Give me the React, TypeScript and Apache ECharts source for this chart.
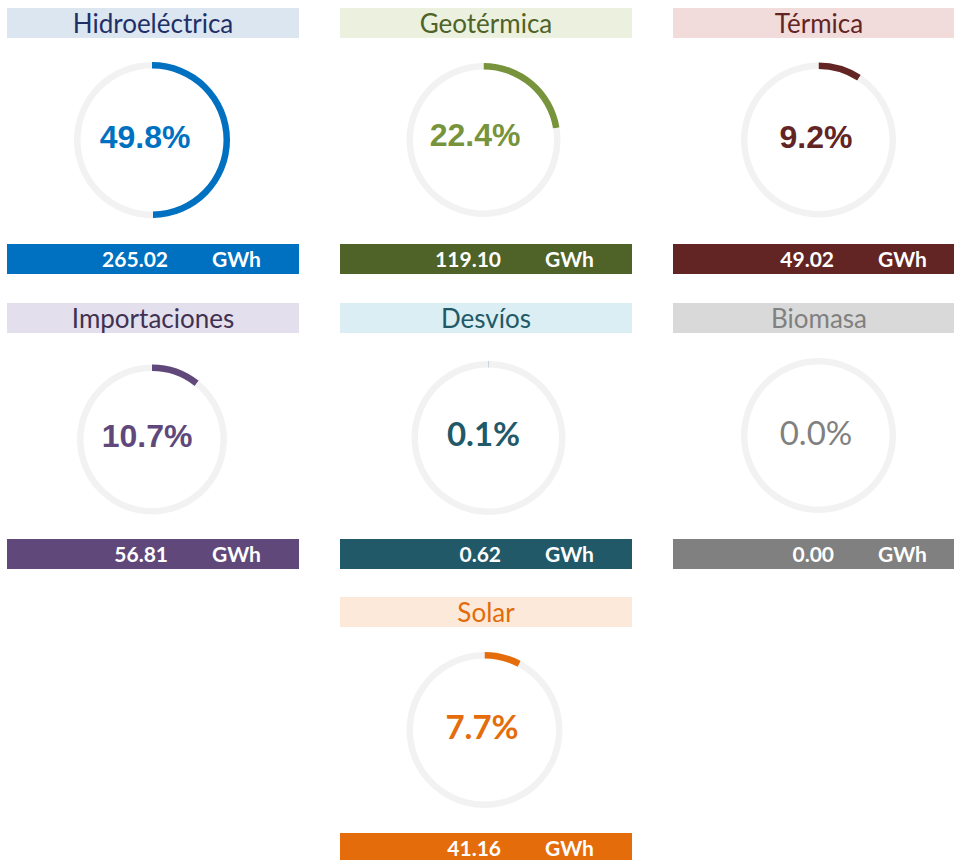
import React, { useEffect, useRef } from "react";
import * as echarts from "echarts";

// ---- data ----
const sources = ["Hidroeléctrica", "Geotérmica", "Térmica", "Importaciones", "Desvíos", "Biomasa", "Solar"];
const shares = [49.8, 22.4, 9.2, 10.7, 0.1, 0.0, 7.7]; // %
const energyGWh = [265.02, 119.1, 49.02, 56.81, 0.62, 0.0, 41.16];
const unit = "GWh";

// ---- styling ----
const ringColors = ["#0070C0", "#77933C", "#632523", "#60497A", "#215968", "#808080", "#E46C0A"];
const barColors = ["#0070C0", "#4F6228", "#632523", "#60497A", "#215968", "#808080", "#E46C0A"];
const titleBg = ["#DCE6F1", "#EBF1DE", "#F2DCDB", "#E4DFEC", "#DAEEF3", "#D9D9D9", "#FDE9D9"];
const titleFg = ["#1F3068", "#4F6228", "#632523", "#3F3151", "#215967", "#808080", "#E26B0A"];
const pctFont = ["Liberation Sans", "Liberation Sans", "Liberation Sans", "Liberation Sans", "Lato", "Lato", "Lato"];
const pctWeight = ["bold", "bold", "bold", "bold", "bold", "normal", "bold"];
const pctSize = [32, 32, 32, 32, 33, 33, 33];

// panel layout (x of panel, y of title bar, ring centre, ring radius, percent-label centre)
const panelX = [7, 340, 673, 7, 340, 673, 340];
const panelY = [8, 8, 8, 303, 303, 303, 597];
const ringC = [[152, 140], [483.5, 140], [818.5, 140], [152, 439.5], [488.5, 438], [818.5, 435.5], [484.5, 730]];
const ringR = [78, 77, 77.5, 75, 77, 77.5, 78];
const pctC = [[145, 137], [475, 135], [816, 137], [147, 436], [483.5, 433], [816, 432], [482, 726]];

const PANEL_W = 292;
const BAR_H = 30;
const VALUE_OFFSET = 236;

export default function App() {
  const ref = useRef<HTMLDivElement>(null);

  useEffect(() => {
    if (!ref.current) return;
    const chart = echarts.init(ref.current, null, { renderer: "svg" });

    const series: any[] = sources.map((name, i) => ({
      type: "pie",
      name,
      center: ringC[i],
      radius: [ringR[i] - 6.5, ringR[i]],
      startAngle: 90,
      clockwise: true,
      silent: true,
      avoidLabelOverlap: false,
      label: { show: false },
      labelLine: { show: false },
      emphasis: { disabled: true },
      itemStyle: { borderWidth: 0 },
      data: [
        { value: shares[i], itemStyle: { color: ringColors[i] } },
        { value: 100 - shares[i], itemStyle: { color: "#F2F2F2" } },
      ],
    }));

    const graphics: any[] = [];
    sources.forEach((name, i) => {
      const x = panelX[i];
      const y = panelY[i];
      graphics.push({
        type: "rect",
        shape: { x, y, width: PANEL_W, height: BAR_H },
        style: { fill: titleBg[i] },
        silent: true,
      });
      graphics.push({
        type: "text",
        x: x + PANEL_W / 2,
        y: y + BAR_H / 2 - 0.5,
        style: {
          text: name,
          fill: titleFg[i],
          font: "normal 26px Lato, 'Open Sans', sans-serif",
          align: "center",
          verticalAlign: "middle",
        },
        silent: true,
      });
      const vy = y + VALUE_OFFSET;
      graphics.push({
        type: "rect",
        shape: { x, y: vy, width: PANEL_W, height: BAR_H },
        style: { fill: barColors[i] },
        silent: true,
      });
      graphics.push({
        type: "text",
        x: x + 161,
        y: vy + BAR_H / 2 - 0.5,
        style: {
          text: energyGWh[i].toFixed(2),
          fill: "#FFFFFF",
          font: "bold 21px Lato, 'Open Sans', sans-serif",
          align: "right",
          verticalAlign: "middle",
        },
        silent: true,
      });
      graphics.push({
        type: "text",
        x: x + 205,
        y: vy + BAR_H / 2 - 0.5,
        style: {
          text: unit,
          fill: "#FFFFFF",
          font: "bold 21px Lato, 'Open Sans', sans-serif",
          align: "left",
          verticalAlign: "middle",
        },
        silent: true,
      });
      graphics.push({
        type: "text",
        x: pctC[i][0],
        y: pctC[i][1],
        style: {
          text: shares[i].toFixed(1) + "%",
          fill: ringColors[i],
          font: `${pctWeight[i]} ${pctSize[i]}px '${pctFont[i]}', sans-serif`,
          align: "center",
          verticalAlign: "middle",
        },
        silent: true,
      });
    });

    chart.setOption({
      animation: false,
      backgroundColor: "#FFFFFF",
      series,
      graphic: graphics,
    });

    return () => chart.dispose();
  }, []);

  return (
    <div
      ref={ref}
      style={{ position: "absolute", left: 0, top: 0, width: 954, height: 860 }}
    />
  );
}
